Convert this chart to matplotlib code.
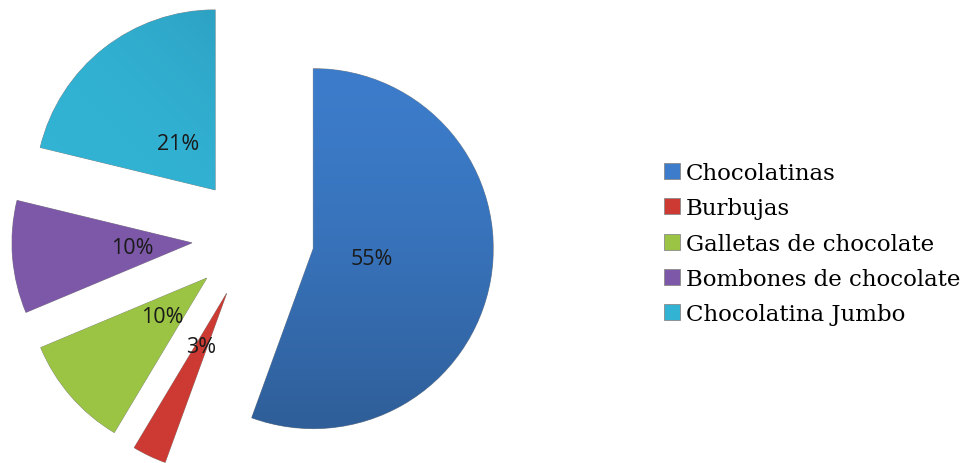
import numpy as np
import matplotlib.pyplot as plt
from matplotlib.colors import to_rgb

categorias = ['Chocolatinas', 'Burbujas', 'Galletas de chocolate',
              'Bombones de chocolate', 'Chocolatina Jumbo']
porcentajes = [55, 3, 10, 10, 21]
colores = ['#3c7cca', '#cc3a33', '#9bc444', '#7d58a8', '#32b3d4']
colores_oscuros = ['#2f5e98', '#b0322c', '#86ab38', '#6c4a93', '#2b98ba']

W, H = 973, 464
R = 180.0          # pie radius in pixels
cx, cy = 253, 225  # pie centre in pixels from bottom-left

fig = plt.figure(figsize=(W / 100, H / 100), dpi=100)
ax_w = 520
ax = fig.add_axes([0, 0, ax_w / W, 1])

total = sum(porcentajes)
wedges, textos, autotextos = ax.pie(
    porcentajes, colors=colores, startangle=90, counterclock=False,
    explode=[0.34] * len(porcentajes), pctdistance=0.33,
    autopct=lambda p: '%.0f%%' % (p * total / 100.0),
    wedgeprops=dict(edgecolor='#8a8a8a', linewidth=0.6),
    textprops=dict(fontsize=15.5, family=['Open Sans', 'DejaVu Sans'], color='#1a1a1a'))

ax.set_aspect('equal', adjustable='box')
ax.axis('off')

# soft shading inside the big slices
for w, c1, c2 in zip(wedges, colores, colores_oscuros):
    x0, y0 = w.center
    n = 200
    gx, gy = np.meshgrid(np.linspace(x0 - 1, x0 + 1, n), np.linspace(y0 - 1, y0 + 1, n))
    if w is wedges[0]:
        s = np.clip((y0 + 1 - gy) / 2.0, 0, 1) ** 1.5
    elif w is wedges[-1]:
        s = np.clip(((gx - x0) + (gy - y0)) / 2.0 + 0.3, 0, 1) ** 2
    else:
        s = np.zeros_like(gx)
    a, b = np.array(to_rgb(c1)), np.array(to_rgb(c2))
    img = a[None, None, :] * (1 - s[..., None]) + b[None, None, :] * s[..., None]
    im = ax.imshow(img, extent=(x0 - 1, x0 + 1, y0 - 1, y0 + 1), origin='lower',
                   zorder=w.get_zorder() + 0.1, interpolation='bilinear')
    im.set_clip_path(w)

for t in autotextos:
    t.set_zorder(5)

ax.set_xlim(-cx / R, (ax_w - cx) / R)
ax.set_ylim(-cy / R, (H - cy) / R)

fig.legend(wedges, categorias, loc='upper left', bbox_to_anchor=(655 / W, 1 - 154 / H),
           frameon=False, handlelength=0.7, handleheight=0.7, handletextpad=0.25,
           labelspacing=0.58, borderaxespad=0,
           prop=dict(family=['DejaVu Serif'], size=16.5))

fig.savefig('out.png', dpi=100)
